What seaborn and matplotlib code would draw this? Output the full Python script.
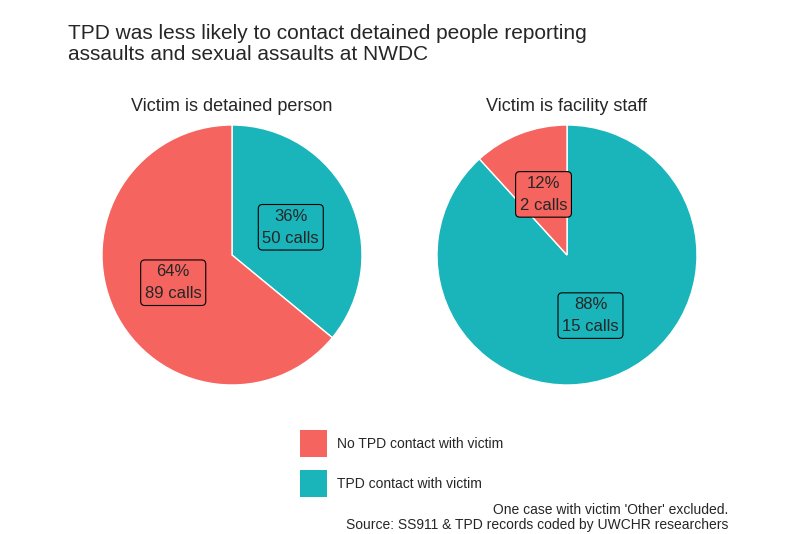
import matplotlib
matplotlib.use('Agg')
import matplotlib.pyplot as plt
import seaborn as sns
from matplotlib.patches import Rectangle

sns.set_theme(style='white')
plt.rcParams['font.family'] = ['Liberation Sans', 'DejaVu Sans']

# Data
panels = ['Victim is detained person', 'Victim is facility staff']
categories = ['TPD contact with victim', 'No TPD contact with victim']
pct = [[36, 64], [88, 12]]
calls = [[50, 89], [15, 2]]
colors = ['#1AB4BB', '#F5645F']

fig = plt.figure(figsize=(8, 5.34), dpi=100)
fig.text(0.085, 0.955, 'TPD was less likely to contact detained people reporting\nassaults and sexual assaults at NWDC',
         fontsize=15, va='top', ha='left', linespacing=1.1)

centers = [232, 567]
for i, cx in enumerate(centers):
    ax = fig.add_axes([(cx - 130) / 800, 1 - 385 / 534, 260 / 800, 260 / 534])
    ax.pie(calls[i], colors=colors, startangle=90, counterclock=False, radius=1,
           labels=[f'{p}%\n{c} calls' for p, c in zip(pct[i], calls[i])],
           labeldistance=0.5,
           textprops=dict(ha='center', va='center', fontsize=12, linespacing=1.6))
    for t, col in zip(ax.texts, colors):
        t.set_bbox(dict(boxstyle='round,pad=0.25', facecolor=col, edgecolor='black', linewidth=0.8))
    ax.set_aspect('auto')
    ax.set_xlim(-1, 1)
    ax.set_ylim(-1, 1)
    ax.set_title(panels[i], fontsize=13, pad=10)

# Legend
leg_items = [('No TPD contact with victim', colors[1], 430), ('TPD contact with victim', colors[0], 470)]
for lab, col, y in leg_items:
    fig.patches.append(Rectangle((300 / 800, 1 - (y + 27) / 534), 27 / 800, 27 / 534,
                                 transform=fig.transFigure, facecolor=col, edgecolor='none'))
    fig.text(337 / 800, 1 - (y + 13.5) / 534, lab, fontsize=10, va='center', ha='left')

fig.text(728 / 800, 1 - 510 / 534, "One case with victim 'Other' excluded.", fontsize=10, ha='right', va='center')
fig.text(728 / 800, 1 - 525 / 534, 'Source: SS911 & TPD records coded by UWCHR researchers', fontsize=10, ha='right', va='center')

fig.savefig('out.png', dpi=100)
